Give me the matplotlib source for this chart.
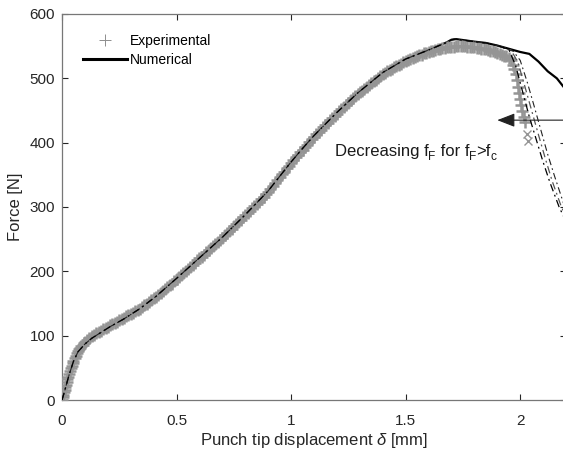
import matplotlib
matplotlib.use("Agg")
import matplotlib.pyplot as plt
from matplotlib.lines import Line2D
from matplotlib.transforms import offset_copy

plt.rcParams["font.family"] = ["Liberation Sans", "DejaVu Sans"]
plt.rcParams["mathtext.fontset"] = "custom"
plt.rcParams["mathtext.rm"] = "Liberation Sans"
plt.rcParams["mathtext.it"] = "Liberation Sans:italic"

# Experimental punch test (displacement in mm, force in N)
exp_disp = [
    0.000, 0.003, 0.006, 0.009, 0.012, 0.015, 0.018, 0.021, 0.024, 0.027,
    0.030, 0.034, 0.038, 0.042, 0.046, 0.050, 0.055, 0.060, 0.065, 0.070,
    0.075, 0.080, 0.085, 0.090, 0.095, 0.100, 0.11, 0.12, 0.13, 0.14,
    0.15, 0.16, 0.17, 0.18, 0.19, 0.20, 0.21, 0.22, 0.23, 0.24,
    0.25, 0.26, 0.27, 0.28, 0.29, 0.30, 0.31, 0.32, 0.33, 0.34,
    0.35, 0.36, 0.37, 0.38, 0.39, 0.40, 0.41, 0.42, 0.43, 0.44,
    0.45, 0.46, 0.47, 0.48, 0.49, 0.50, 0.51, 0.52, 0.53, 0.54,
    0.55, 0.56, 0.57, 0.58, 0.59, 0.60, 0.61, 0.62, 0.63, 0.64,
    0.65, 0.66, 0.67, 0.68, 0.69, 0.70, 0.71, 0.72, 0.73, 0.74,
    0.75, 0.76, 0.77, 0.78, 0.79, 0.80, 0.81, 0.82, 0.83, 0.84,
    0.85, 0.86, 0.87, 0.88, 0.89, 0.90, 0.91, 0.92, 0.93, 0.94,
    0.95, 0.96, 0.97, 0.98, 0.99, 1.00, 1.01, 1.02, 1.03, 1.04,
    1.05, 1.06, 1.07, 1.08, 1.09, 1.10, 1.11, 1.12, 1.13, 1.14,
    1.15, 1.16, 1.17, 1.18, 1.19, 1.20, 1.21, 1.22, 1.23, 1.24,
    1.25, 1.26, 1.27, 1.28, 1.29, 1.30, 1.31, 1.32, 1.33, 1.34,
    1.35, 1.36, 1.37, 1.38, 1.39, 1.40, 1.41, 1.42, 1.43, 1.44,
    1.45, 1.46, 1.47, 1.48, 1.49, 1.50, 1.51, 1.52, 1.53, 1.54,
    1.55, 1.56, 1.57, 1.58, 1.59, 1.60, 1.61, 1.62, 1.63, 1.64,
    1.65, 1.66, 1.67, 1.68, 1.69, 1.70, 1.71, 1.72, 1.73, 1.74,
    1.75, 1.76, 1.77, 1.78, 1.79, 1.80, 1.81, 1.82, 1.83, 1.84,
    1.85, 1.86, 1.87, 1.88, 1.89, 1.90, 1.91, 1.92, 1.93, 1.94,
    1.95, 1.96, 1.97, 1.975, 1.98, 1.985, 1.99, 1.995, 2.00, 2.005,
    2.01, 2.015, 2.02,
]
exp_force = [
    0, 4, 8, 12, 16, 20, 24, 28, 32, 36,
    40, 45, 49, 53, 57, 61, 65, 69, 73, 76,
    79, 81, 84, 86, 88, 90, 93, 96, 99, 101,
    104, 106, 108, 110, 112, 114, 116, 118, 120, 122,
    124, 126, 128, 130, 132, 134, 136, 138, 140, 142,
    145, 147, 150, 152, 155, 158, 160, 163, 166, 169,
    172, 175, 178, 181, 185, 188, 191, 194, 197, 200,
    204, 207, 210, 213, 217, 220, 223, 226, 230, 233,
    236, 239, 243, 246, 249, 252, 256, 259, 263, 266,
    270, 273, 277, 280, 284, 287, 291, 294, 298, 301,
    305, 308, 312, 316, 320, 324, 328, 333, 337, 342,
    346, 351, 355, 360, 364, 368, 373, 377, 381, 385,
    389, 393, 397, 401, 405, 409, 413, 417, 420, 424,
    428, 431, 435, 438, 442, 445, 449, 452, 456, 459,
    462, 466, 469, 472, 475, 478, 481, 484, 487, 490,
    493, 496, 498, 501, 503, 506, 508, 511, 513, 515,
    517, 519, 521, 523, 525, 527, 528, 530, 531, 533,
    534, 536, 537, 539, 540, 541, 542, 543, 544, 545,
    546, 547, 547, 548, 548, 549, 549, 550, 550, 550,
    550, 550, 549, 549, 548, 548, 547, 547, 546, 546,
    545, 544, 543, 542, 541, 540, 538, 537, 535, 534,
    531, 528, 520, 514, 506, 497, 487, 477, 468, 458,
    449, 440, 432,
]
# Last recorded points after crack onset
exp_end_disp = [2.030, 2.035]
exp_end_force = [414, 403]

# Numerical response, reference fracture parameter
num_disp = [0.00, 0.01, 0.02, 0.03, 0.05, 0.07, 0.10, 0.13, 0.17, 0.21, 0.27,
            0.34, 0.41, 0.50, 0.60, 0.70, 0.80, 0.90, 1.00, 1.05, 1.10, 1.20,
            1.29, 1.40, 1.50, 1.60, 1.64, 1.68, 1.70, 1.72, 1.76, 1.80, 1.85,
            1.90]
num_force = [0, 12, 25, 38, 60, 75, 87, 96, 105, 114, 126,
             142, 161, 189, 221, 253, 288, 325, 370, 391, 411, 447,
             477, 509, 530, 544, 550, 556, 560, 561, 559, 557, 555,
             551]
solid_tail_disp = [1.95, 2.00, 2.04, 2.08, 2.12, 2.16, 2.20]
solid_tail_force = [546, 541, 538, 526, 511, 500, 482]

# Softer responses for decreasing f_F
var1_disp = [1.95, 1.98, 2.01, 2.04, 2.07, 2.10, 2.13, 2.17, 2.19]
var1_force = [545, 520, 480, 440, 405, 370, 338, 300, 285]
var2_disp = [1.96, 1.99, 2.02, 2.05, 2.08, 2.11, 2.14, 2.18, 2.20]
var2_force = [544, 525, 488, 450, 412, 375, 340, 300, 285]
var3_disp = [1.97, 2.00, 2.03, 2.06, 2.09, 2.12, 2.15, 2.19]
var3_force = [542, 528, 495, 458, 420, 382, 348, 305]

# Annotation pieces: (text, font size, baseline shift in pixels)
note_parts = [("Decreasing f", 12, 0), ("F", 8.6, -4), (" for f", 12, 0),
              ("F", 8.6, -4), (">f", 12, 0), ("c", 8.6, -4)]

dashdot = (0, (6, 3, 1.5, 3))

fig = plt.figure(figsize=(5.63, 4.5), dpi=100)
ax = fig.add_axes([62 / 563, 50 / 450, 504 / 563, 386 / 450])

ax.plot(num_disp + solid_tail_disp, num_force + solid_tail_force,
        color="black", lw=1.6, zorder=2)
ax.plot(exp_disp, exp_force, ls="none", marker="+", ms=9, mew=1.8,
        color="#959595", zorder=3)
ax.plot(exp_end_disp, exp_end_force, ls="none", marker="x", ms=6, mew=1.0,
        color="#959595", zorder=3)
ax.plot(num_disp + var2_disp, num_force + var2_force, color="#555555",
        lw=0.9, ls=dashdot, zorder=4)
ax.plot(num_disp + var3_disp, num_force + var3_force, color="#222222",
        lw=0.8, ls=dashdot, zorder=4)
ax.plot(num_disp + var1_disp, num_force + var1_force, color="black",
        lw=0.9, ls=dashdot, zorder=4)

ax.annotate("", xy=(1.90, 435), xytext=(2.25, 435),
            arrowprops=dict(arrowstyle="-|>,head_length=0.9,head_width=0.35",
                            color="#222222", lw=0.8, mutation_scale=12,
                            shrinkA=0, shrinkB=0), zorder=5)

renderer = fig.canvas.get_renderer()
dx = 0.0
for txt, size, shift in note_parts:
    trans = offset_copy(ax.transData, fig=fig, x=dx, y=shift, units="dots")
    t = ax.text(1.19, 380, txt, transform=trans, fontsize=size,
                va="baseline", ha="left", color="#1a1a1a")
    dx += t.get_window_extent(renderer=renderer).width

ax.set_xlim(0, 2.2)
ax.set_ylim(0, 600)
ax.set_xticks([0, 0.5, 1, 1.5, 2])
ax.set_xticklabels(["0", "0.5", "1", "1.5", "2"])
ax.set_yticks([0, 100, 200, 300, 400, 500, 600])
ax.tick_params(direction="in", top=True, right=True, length=4, width=0.8,
               colors="#262626", labelsize=11)
ax.tick_params(axis="x", pad=10)
ax.tick_params(axis="y", pad=5)
for s in ax.spines.values():
    s.set_color("#777777")
    s.set_linewidth(0.9)
ax.set_xlabel(r"Punch tip displacement $\it{\delta}$ [mm]", fontsize=12,
              color="#262626", labelpad=2)
ax.set_ylabel("Force [N]", fontsize=12, color="#262626", labelpad=5)

handles = [Line2D([], [], ls="none", marker="+", ms=9, mew=0.7, color="#8e8e8e"),
           Line2D([], [], color="black", lw=2.2)]
ax.legend(handles, ["Experimental", "Numerical"], loc="upper left",
          bbox_to_anchor=(0.03, 0.962), frameon=False, fontsize=10,
          handlelength=3.2, handletextpad=0.2, labelspacing=0.35,
          borderaxespad=0.0)

fig.savefig("out.png", dpi=100)
